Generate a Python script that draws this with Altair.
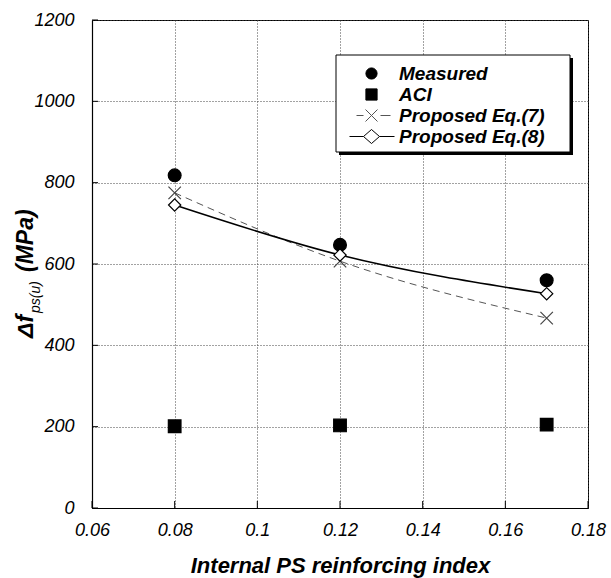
import altair as alt
import pandas as pd

# Reinforcing index of the internal prestressing steel
ps_index = [0.08, 0.12, 0.17]

# Stress increase at ultimate, MPa
measured = [818, 647, 560]
aci = [201, 203, 205]
eq7 = [775, 607, 467]
eq8 = [745, 622, 527]

series_names = ["Measured", "ACI", "Proposed Eq.(7)", "Proposed Eq.(8)"]
x_ticks = [0.06, 0.08, 0.10, 0.12, 0.14, 0.16, 0.18]
y_ticks = [0, 200, 400, 600, 800, 1000, 1200]

FONT = "Liberation Sans"
W, H = 496, 488
X_TITLE = "Internal PS reinforcing index"

rows = []
for name, vals in zip(series_names, [measured, aci, eq7, eq8]):
    for xi, v in zip(ps_index, vals):
        rows.append({"index": xi, "stress": v, "series": name})
df = pd.DataFrame(rows)

x_scale = alt.Scale(domain=[0.06, 0.18], nice=False, zero=False)
y_scale = alt.Scale(domain=[0, 1200], nice=False)

x_axis = alt.Axis(
    values=x_ticks, format="~g", title=X_TITLE,
    grid=True, gridColor="#444", gridDash=[1, 2], gridWidth=1,
    ticks=False, labelPadding=13, labelFontSize=18, labelFontStyle="italic",
    labelFont=FONT, labelColor="black", labelFlush=False, labelOverlap=False,
    titleFont=FONT, titleFontSize=22, titleFontStyle="italic", titleFontWeight="bold",
    titleColor="black", titlePadding=16,
    domainColor="black", domainWidth=1.2,
)
y_axis = alt.Axis(
    values=y_ticks, format="d", title=None,
    grid=True, gridColor="#444", gridDash=[1, 2], gridWidth=1,
    ticks=False, labelPadding=18, labelFontSize=18, labelFontStyle="italic",
    labelFont=FONT, labelColor="black", labelFlush=False, labelOverlap=False,
    domainColor="black", domainWidth=1.2,
)

X = alt.X("index:Q", scale=x_scale, axis=x_axis, title=X_TITLE)
Y = alt.Y("stress:Q", scale=y_scale, axis=y_axis, title=None)

base = alt.Chart(df)

# Fitted curves for the two proposed equations
line7 = base.mark_line(color="#555", strokeWidth=1, strokeDash=[7, 5],
                       interpolate="monotone").encode(X, Y).transform_filter(
    alt.datum.series == "Proposed Eq.(7)")
line8 = base.mark_line(color="black", strokeWidth=1.5,
                       interpolate="monotone").encode(X, Y).transform_filter(
    alt.datum.series == "Proposed Eq.(8)")

x_path = "M-1,-1L1,1M-1,1L1,-1"
points = base.mark_point(filled=False, strokeWidth=1.2, opacity=1).encode(
    X, Y,
    shape=alt.Shape("series:N", legend=None,
                    scale=alt.Scale(domain=series_names,
                                    range=["circle", "square", x_path, "diamond"])),
    fill=alt.Fill("series:N", legend=None,
                  scale=alt.Scale(domain=series_names,
                                  range=["black", "black", "transparent", "white"])),
    stroke=alt.Stroke("series:N", legend=None,
                      scale=alt.Scale(domain=series_names,
                                      range=["black", "black", "#444", "black"])),
    size=alt.Size("series:N", legend=None,
                  scale=alt.Scale(domain=series_names, range=[165, 150, 200, 200])),
)

# Legend glyphs: marker plus the line style of each series
legend_paths = [
    "M-0.56,0A0.56,0.56,0,1,1,0.56,0A0.56,0.56,0,1,1,-0.56,0Z",
    "M-0.56,-0.56H0.56V0.56H-0.56Z",
    "M-1.5,0H-0.8M0.9,0H1.9M-0.6,-0.6L0.6,0.6M-0.6,0.6L0.6,-0.6",
    "M-2.2,0H-0.8M0.8,0H2.3M-0.8,0L0,-0.7L0.8,0L0,0.7Z",
]
legend_def = alt.Legend(
    title=None, orient="none", legendX=244, legendY=35,
    padding=8, symbolSize=400, symbolOffset=17, symbolStrokeWidth=1,
    symbolOpacity=1,
    labelFont=FONT, labelFontSize=19, labelFontStyle="italic",
    labelFontWeight="bold", labelColor="black", labelOffset=17, rowPadding=-2,
)
legend_layer = base.mark_point(filled=False, opacity=0, color="black").encode(
    X, Y,
    shape=alt.Shape("series:N", legend=legend_def,
                    scale=alt.Scale(domain=series_names, range=legend_paths)),
    fill=alt.Fill("series:N", legend=legend_def,
                  scale=alt.Scale(domain=series_names,
                                  range=["black", "black", "transparent", "white"])),
    stroke=alt.Stroke("series:N", legend=legend_def,
                      scale=alt.Scale(domain=series_names,
                                      range=["black", "black", "#555", "black"])),
)

# Legend frame with a drop shadow on the right and bottom
one = alt.Data(values=[{}])
shadow = alt.Chart(one).mark_rect(color="black").encode(
    x=alt.value(247), x2=alt.value(481), y=alt.value(38), y2=alt.value(135))
frame = alt.Chart(one).mark_rect(fill="white", stroke="black", strokeWidth=1).encode(
    x=alt.value(244), x2=alt.value(478), y=alt.value(35), y2=alt.value(132))

# Short inward ticks along the left and bottom axes
xt = alt.Chart(pd.DataFrame({"t": x_ticks})).mark_rule(color="black", strokeWidth=1).encode(
    x=alt.X("t:Q", scale=x_scale, axis=x_axis, title=X_TITLE),
    y=alt.value(H), y2=alt.value(H - 7))
yt = alt.Chart(pd.DataFrame({"t": y_ticks})).mark_rule(color="black", strokeWidth=1).encode(
    y=alt.Y("t:Q", scale=y_scale, axis=y_axis, title=None),
    x=alt.value(0), x2=alt.value(6))

# Y-axis title with subscript, built from three rotated text pieces
title_delta = alt.Chart(one).mark_text(
    text="Δf", angle=270, align="left", baseline="alphabetic", font=FONT,
    fontSize=23, fontStyle="italic", fontWeight="bold", color="black"
).encode(x=alt.value(-59), y=alt.value(318))
title_sub = alt.Chart(one).mark_text(
    text="ps(u)", angle=270, align="left", baseline="alphabetic", font=FONT,
    fontSize=14, fontStyle="italic", color="black"
).encode(x=alt.value(-52), y=alt.value(293))
title_unit = alt.Chart(one).mark_text(
    text="(MPa)", angle=270, align="left", baseline="alphabetic", font=FONT,
    fontSize=23, fontStyle="italic", fontWeight="bold", color="black"
).encode(x=alt.value(-59), y=alt.value(252))

chart = alt.layer(
    xt, yt, line7, line8, points, shadow, frame, legend_layer,
    title_delta, title_sub, title_unit,
).resolve_scale(
    shape="independent", fill="independent", stroke="independent"
).properties(
    width=W, height=H,
    autosize=alt.AutoSizeParams(type="none"),
    padding={"left": 92, "top": 20, "right": 23, "bottom": 70},
    background="white",
).configure_view(
    stroke="black", strokeWidth=1
)

chart.save("out.html", embed_options={"renderer": "svg", "actions": False})
